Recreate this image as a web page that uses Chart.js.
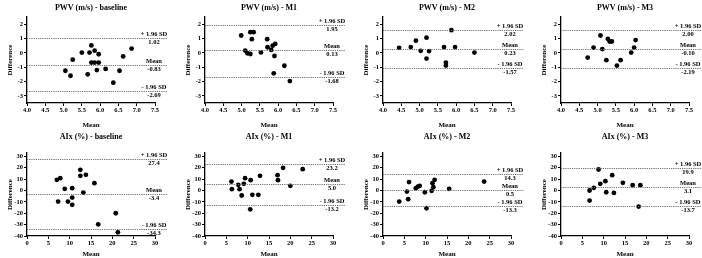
<!DOCTYPE html>
<html lang="en">
<head>
<meta charset="UTF-8">
<title>Bland-Altman PWV / AIx</title>
<script src="https://cdn.jsdelivr.net/npm/chart.js"></script>
<style>
  body { margin: 0; background: #fff; overflow: hidden; }
  #grid { position: relative; width: 702px; height: 258px; overflow: hidden; }
  #grid canvas { position: absolute; }
</style>
</head>
<body>
<div id="grid"></div>
<script>
// ---- data ----
const panelTitles = [
  'PWV (m/s) - baseline', 'PWV (m/s) - M1', 'PWV (m/s) - M2', 'PWV (m/s) - M3',
  'AIx (%) - baseline', 'AIx (%) - M1', 'AIx (%) - M2', 'AIx (%) - M3'
];

const pwvXTicks = [4.0, 4.5, 5.0, 5.5, 6.0, 6.5, 7.0, 7.5];
const pwvYTicks = [-3, -2, -1, 0, 1, 2];
const aixXTicks = [0, 5, 10, 15, 20, 25, 30];
const aixYTicks = [-40, -30, -20, -10, 0, 10, 20, 30];

const pwvBaselineMean = [5.05, 5.19, 5.25, 5.50, 5.66, 5.71, 5.76, 5.76, 5.85, 5.85, 5.96, 5.96, 5.91, 6.15, 6.36, 6.53, 6.63, 6.86];
const pwvBaselineDiff = [-1.25, -1.6, -0.48, 0.02, -1.5, 0.02, 0.52, -0.68, 0.15, -0.68, -0.1, -0.68, -1.2, -1.12, -2.08, -1.25, -0.25, 0.3];

const pwvM1Mean = [4.99, 5.10, 5.16, 5.24, 5.24, 5.33, 5.28, 5.53, 5.70, 5.71, 5.81, 5.85, 5.92, 5.90, 5.88, 6.17, 6.32];
const pwvM1Diff = [1.21, 0.16, -0.03, -0.08, 1.44, 1.44, 0.95, 0.03, 0.95, 0.39, 0.2, 0.5, 0.62, -0.22, -1.43, -0.9, -1.97];

const pwvM2Mean = [4.44, 4.76, 4.90, 5.03, 5.19, 5.19, 5.26, 5.67, 5.87, 5.97, 5.72, 5.72, 6.50];
const pwvM2Diff = [0.35, 0.4, 0.85, 0.14, 1.06, -0.4, 0.12, 0.4, 1.58, 0.4, -0.68, -0.89, 0.02];

const pwvM3Mean = [4.73, 4.89, 5.08, 5.13, 5.24, 5.28, 5.33, 5.39, 5.53, 5.63, 5.92, 6.00, 6.04];
const pwvM3Diff = [-0.33, 0.37, 1.21, 0.26, -0.51, 0.98, 0.79, 0.79, -0.89, -0.51, 0.02, 0.37, 0.89];

const aixBaselineMean = [7.0, 7.8, 7.3, 8.85, 9.6, 10.6, 10.6, 10.6, 12.5, 12.5, 13.2, 13.8, 15.8, 16.7, 20.8, 21.3];
const aixBaselineDiff = [9.4, 10.9, -9.7, 1.5, -9.7, 2.1, -6.2, -12.6, 18.2, 12.9, -1.8, 13.8, 6.5, -29.7, -20, -36.8];

const aixM1Mean = [6.2, 6.3, 7.8, 8.1, 8.6, 9.1, 9.4, 10.7, 10.6, 11.1, 12.5, 12.9, 17.0, 17.1, 18.3, 20.0, 22.9];
const aixM1Diff = [7.9, 1.2, 5.0, 1.2, -4.4, 5.9, 10.9, 9.1, -16.5, -3.8, -3.8, 12.9, 13.5, 9.1, 20, 4.1, 18.8];

const aixM2Mean = [3.8, 5.6, 5.9, 6.1, 7.7, 8.2, 8.6, 9.8, 10.2, 11.4, 11.6, 11.8, 12.1, 15.5, 23.7];
const aixM2Diff = [-9.7, -0.9, -7.6, 7.4, 2.1, 3.5, 4.1, -1.5, -15.6, -0.3, 6.5, 2.9, 9.4, 1.5, 7.9];

const aixM3Mean = [6.7, 6.7, 7.7, 8.8, 9.2, 10.4, 10.6, 12.0, 12.4, 14.5, 16.8, 18.6, 18.2];
const aixM3Diff = [0, -8.8, 2.4, 18.5, 5.9, 8.2, -1.5, 13.5, -2.1, 6.8, 4.7, 4.7, -14.1];

// limit lines as drawn (upper, mean, lower) and the printed values
const limitLines = [
  [1.02, -0.83, -2.69], [1.97, 0.17, -1.66], [1.6, 0.27, -1.08], [1.6, 0.3, -1.03],
  [27.6, -3.0, -34.2], [23.7, 5.4, -12.8], [14.5, 0.6, -13.6], [19.8, 3.0, -13.8]
];
const limitText = [
  ['1.02', '-0.83', '-2.69'], ['1.95', '0.13', '-1.68'], ['2.02', '0.23', '-1.57'], ['2.00', '-0.10', '-2.19'],
  ['27.4', '-3.4', '-34.3'], ['23.2', '5.0', '-13.2'], ['14.3', '0.5', '-13.3'], ['19.9', '3.1', '-13.7']
];
const limitNames = ['+ 1.96 SD', 'Mean', '- 1.96 SD'];

const panelMeans = [pwvBaselineMean, pwvM1Mean, pwvM2Mean, pwvM3Mean, aixBaselineMean, aixM1Mean, aixM2Mean, aixM3Mean];
const panelDiffs = [pwvBaselineDiff, pwvM1Diff, pwvM2Diff, pwvM3Diff, aixBaselineDiff, aixM1Diff, aixM2Diff, aixM3Diff];

// ---- drawing ----
const SERIF = '"Liberation Serif", "Times New Roman", serif';
const PANEL_W = 178, PANEL_H = 129;

// dotted limit lines + labels, and panel title
const blandAltmanPlugin = {
  id: 'blandAltman',
  afterDatasetsDraw(chart, args, opts) {
    const {ctx, chartArea} = chart;
    const y = chart.scales.y;
    ctx.save();
    ctx.strokeStyle = '#6e6e6e';
    ctx.lineWidth = 1;
    ctx.setLineDash([1.2, 1]);
    opts.lines.forEach((v, i) => {
      const py = Math.round(y.getPixelForValue(v)) + 0.5;
      ctx.beginPath();
      ctx.moveTo(chartArea.left, py);
      ctx.lineTo(chartArea.right + 12, py);
      ctx.stroke();
      ctx.fillStyle = '#000';
      ctx.font = 'bold 6.5px ' + SERIF;
      ctx.textAlign = 'center';
      ctx.textBaseline = 'bottom';
      ctx.fillText(limitNames[i], chartArea.right - 1, py - 0.5);
      ctx.textBaseline = 'top';
      ctx.fillText(opts.text[i], chartArea.right - 1, py + 1);
    });
    ctx.setLineDash([]);
    ctx.font = 'bold 8px ' + SERIF;
    ctx.textAlign = 'center';
    ctx.textBaseline = 'middle';
    ctx.fillStyle = '#000';
    ctx.fillText(opts.title, (chartArea.left + chartArea.right) / 2, opts.titleY);
    ctx.restore();
  }
};

function axisStyle(ticks, fmt) {
  return {
    type: 'linear',
    afterBuildTicks: s => { s.ticks = ticks.map(v => ({value: v})); },
    ticks: {
      color: '#000',
      font: {family: SERIF, size: 6.5, weight: 'bold'},
      padding: 1,
      maxRotation: 0,
      callback: fmt
    },
    grid: {drawOnChartArea: false, drawTicks: true, tickLength: 3, color: '#000', lineWidth: 1},
    border: {color: '#000', width: 1.3}
  };
}

const grid = document.getElementById('grid');

panelTitles.forEach((title, i) => {
  const col = i % 4, row = Math.floor(i / 4);
  const isPwv = row === 0;
  const canvas = document.createElement('canvas');
  canvas.width = PANEL_W;
  canvas.height = PANEL_H;
  canvas.style.left = (col * PANEL_W) + 'px';
  canvas.style.top = (row * PANEL_H) + 'px';
  grid.appendChild(canvas);

  const points = panelMeans[i].map((m, k) => ({x: m, y: panelDiffs[i][k]}));

  const xAxis = axisStyle(isPwv ? pwvXTicks : aixXTicks, v => isPwv ? v.toFixed(1) : v);
  xAxis.min = isPwv ? 4 : 0;
  xAxis.max = isPwv ? 7.5 : 30;
  xAxis.ticks.padding = 0;
  xAxis.title = {display: true, text: 'Mean', color: '#000',
    font: {family: SERIF, size: 7, weight: 'bold'}, padding: {top: isPwv ? 3 : 0, bottom: 0}};
  xAxis.afterFit = s => { s.height = isPwv ? 26 : 22; };

  const yAxis = axisStyle(isPwv ? pwvYTicks : aixYTicks, v => v);
  yAxis.min = isPwv ? -3.5 : -40;
  yAxis.max = isPwv ? 2.5 : 33;
  yAxis.title = {display: true, text: 'Difference', color: '#000',
    font: {family: SERIF, size: 7, weight: 'bold'}, padding: {top: 6, bottom: 0}};
  yAxis.afterFit = s => { s.width = 27; };

  new Chart(canvas, {
    type: 'scatter',
    data: {
      datasets: [{
        data: points,
        backgroundColor: '#000',
        borderWidth: 0,
        pointRadius: 2.4,
        pointHoverRadius: 2.4
      }]
    },
    options: {
      responsive: false,
      animation: false,
      devicePixelRatio: 1,
      layout: {padding: {top: isPwv ? 17 : 24, right: 23, left: 0, bottom: 0}},
      scales: {x: xAxis, y: yAxis},
      plugins: {
        legend: {display: false},
        tooltip: {enabled: false},
        blandAltman: {
          lines: limitLines[i],
          text: limitText[i],
          title: title,
          titleY: 8
        }
      }
    },
    plugins: [blandAltmanPlugin]
  });
});
</script>
</body>
</html>
